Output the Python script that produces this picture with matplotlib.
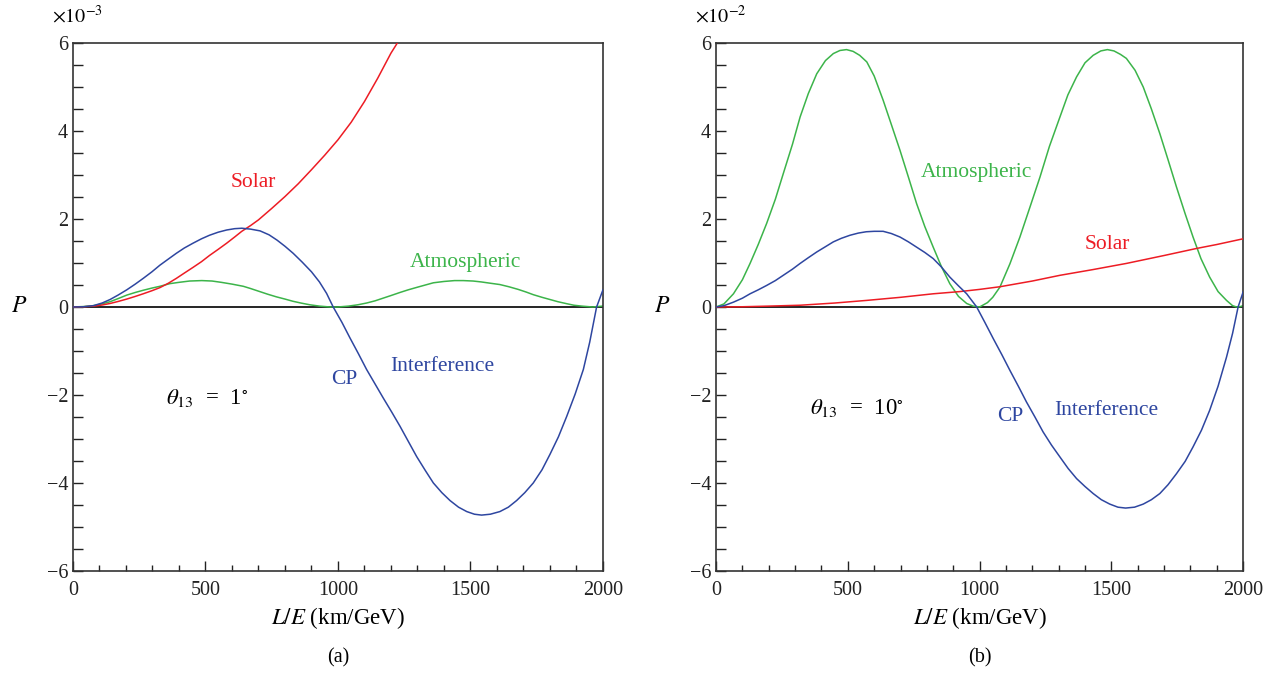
import matplotlib
matplotlib.use("Agg")
import matplotlib.pyplot as plt
from matplotlib.ticker import MultipleLocator

plt.rcParams['font.family'] = ['Liberation Serif', 'DejaVu Serif']
plt.rcParams['mathtext.fontset'] = 'stix'

# panel (a), theta13 = 1 deg, values in units of 1e-3
solar_a_x = [0, 40, 77, 110, 140, 170, 203, 235, 265, 298, 328, 360, 390, 420, 453, 485, 515, 548, 580, 610, 637,
             670, 700, 750, 800, 850, 900, 950, 1000, 1050, 1100, 1150, 1200, 1224, 1240]
solar_a_y = [0, 0.005, 0.02, 0.045, 0.08, 0.125, 0.18, 0.24, 0.3, 0.37, 0.44, 0.54, 0.65, 0.77, 0.9, 1.03, 1.17, 1.31,
             1.45, 1.59, 1.72, 1.85, 1.98, 2.24, 2.51, 2.8, 3.12, 3.45, 3.8, 4.2, 4.67, 5.2, 5.77, 6.0, 6.2]
atm_a_x = [0, 40, 77, 110, 140, 170, 203, 235, 265, 298, 328, 365, 400, 440, 486, 525, 560, 600, 643, 670, 700, 735,
           768, 800, 830, 860, 894, 930, 970, 1000, 1040, 1075, 1108, 1140, 1170, 1200, 1234, 1265, 1300, 1330, 1360,
           1400, 1440, 1473, 1510, 1540, 1575, 1611, 1645, 1680, 1710, 1737, 1770, 1800, 1830, 1863, 1890, 1920, 1960,
           2000]
atm_a_y = [0, 0.01, 0.03, 0.07, 0.12, 0.19, 0.27, 0.33, 0.38, 0.43, 0.47, 0.53, 0.56, 0.59, 0.6, 0.59, 0.56, 0.52,
           0.47, 0.42, 0.36, 0.29, 0.23, 0.18, 0.13, 0.09, 0.05, 0.02, 0, 0, 0.02, 0.05, 0.09, 0.14, 0.2, 0.26, 0.33,
           0.39, 0.45, 0.5, 0.55, 0.58, 0.6, 0.6, 0.59, 0.57, 0.54, 0.51, 0.46, 0.4, 0.34, 0.28, 0.22, 0.17, 0.12,
           0.075, 0.04, 0.02, 0, 0.02]
cp_a_x = [0, 40, 77, 110, 140, 170, 203, 235, 265, 298, 328, 360, 390, 420, 453, 485, 515, 548, 580, 610, 637, 670,
          706, 740, 770, 800, 831, 865, 900, 930, 957, 982, 1015, 1045, 1077, 1108, 1140, 1171, 1203, 1234, 1265, 1297,
          1330, 1360, 1392, 1423, 1455, 1486, 1515, 1542, 1575, 1611, 1643, 1674, 1705, 1737, 1770, 1800, 1832, 1863,
          1895, 1926, 1950, 1976, 2000]
cp_a_y = [0, 0.005, 0.03, 0.09, 0.17, 0.27, 0.39, 0.52, 0.65, 0.8, 0.95, 1.09, 1.22, 1.34, 1.45, 1.55, 1.63, 1.7,
          1.75, 1.78, 1.79, 1.77, 1.73, 1.64, 1.52, 1.38, 1.22, 1.02, 0.8, 0.57, 0.31, 0, -0.35, -0.7, -1.06, -1.42,
          -1.75, -2.07, -2.39, -2.71, -3.05, -3.4, -3.72, -4.0, -4.22, -4.4, -4.55, -4.65, -4.71, -4.73, -4.71, -4.65,
          -4.55, -4.4, -4.22, -4.0, -3.7, -3.35, -2.95, -2.49, -1.98, -1.42, -0.8, 0, 0.39]

# panel (b), theta13 = 10 deg, values in units of 1e-2
solar_b_x = [0, 100, 200, 319, 450, 572, 700, 824, 925, 1000, 1077, 1200, 1305, 1430, 1557, 1700, 1823, 1900, 2000]
solar_b_y = [0, 0.005, 0.02, 0.04, 0.09, 0.15, 0.22, 0.3, 0.35, 0.4, 0.46, 0.59, 0.72, 0.85, 0.99, 1.17, 1.33, 1.42,
             1.55]
atm_b_x = [0, 30, 66, 100, 129, 160, 192, 225, 255, 290, 319, 350, 382, 415, 445, 470, 495, 520, 545, 572, 600, 634,
           665, 698, 730, 761, 792, 824, 855, 887, 920, 951, 975, 1000, 1030, 1050, 1077, 1115, 1153, 1190, 1229, 1265,
           1305, 1335, 1368, 1400, 1431, 1460, 1485, 1510, 1535, 1557, 1590, 1621, 1652, 1684, 1715, 1747, 1780, 1810,
           1840, 1873, 1905, 1937, 1960, 1975, 1990, 2000]
atm_b_y = [0, 0.07, 0.3, 0.62, 0.99, 1.42, 1.9, 2.45, 3.03, 3.7, 4.32, 4.85, 5.3, 5.6, 5.76, 5.83, 5.85, 5.81, 5.72,
           5.57, 5.25, 4.7, 4.15, 3.56, 2.95, 2.35, 1.83, 1.36, 0.92, 0.53, 0.24, 0.08, 0.02, 0, 0.1, 0.22, 0.45, 0.98,
           1.59, 2.25, 2.95, 3.65, 4.32, 4.82, 5.23, 5.55, 5.72, 5.82, 5.85, 5.82, 5.74, 5.65, 5.38, 5.0, 4.5, 3.94,
           3.35, 2.73, 2.12, 1.59, 1.1, 0.68, 0.35, 0.15, 0.03, 0, 0.01, 0.03]
cp_b_x = [0, 30, 66, 100, 129, 160, 192, 225, 255, 290, 319, 350, 382, 415, 445, 475, 508, 540, 570, 600, 634, 665,
          698, 730, 761, 792, 824, 855, 887, 920, 951, 970, 989, 1020, 1052, 1085, 1115, 1147, 1178, 1210, 1241, 1273,
          1305, 1336, 1368, 1400, 1431, 1462, 1494, 1525, 1554, 1588, 1621, 1652, 1684, 1715, 1747, 1780, 1810, 1842,
          1873, 1905, 1937, 1960, 1981, 2000]
cp_b_y = [0, 0.03, 0.11, 0.2, 0.3, 0.39, 0.49, 0.6, 0.72, 0.86, 0.99, 1.12, 1.25, 1.37, 1.48, 1.56, 1.63, 1.68, 1.71,
          1.72, 1.72, 1.67, 1.59, 1.48, 1.36, 1.24, 1.1, 0.91, 0.68, 0.48, 0.3, 0.15, 0, -0.35, -0.72, -1.09, -1.44,
          -1.8, -2.16, -2.5, -2.84, -3.14, -3.41, -3.67, -3.9, -4.08, -4.24, -4.38, -4.48, -4.55, -4.57, -4.55, -4.48,
          -4.38, -4.24, -4.04, -3.79, -3.51, -3.18, -2.8, -2.35, -1.8, -1.14, -0.6, 0, 0.34]

red = '#ed1c24'
green = '#3cb44a'
blue = '#2e46a0'

fig = plt.figure(figsize=(12.78, 6.73), dpi=100)
ax1 = fig.add_axes([0.0571, 0.1516, 0.4147, 0.7845])
ax2 = fig.add_axes([0.5603, 0.1516, 0.4124, 0.7845])

panels = [
    (ax1, solar_a_x, solar_a_y, atm_a_x, atm_a_y, cp_a_x, cp_a_y, r'$\times10^{-3}$', '(a)'),
    (ax2, solar_b_x, solar_b_y, atm_b_x, atm_b_y, cp_b_x, cp_b_y, r'$\times10^{-2}$', '(b)'),
]

for ax, sx, sy, gx, gy, cx, cy, mult, tag in panels:
    ax.axhline(0, color='black', lw=1.2, zorder=1)
    ax.plot(sx, sy, color=red, lw=1.1, zorder=3)
    ax.plot(gx, gy, color=green, lw=1.1, zorder=2)
    ax.plot(cx, cy, color=blue, lw=1.1, zorder=3)
    ax.set_xlim(0, 2000)
    ax.set_ylim(-6, 6)
    ax.xaxis.set_major_locator(MultipleLocator(500))
    ax.xaxis.set_minor_locator(MultipleLocator(100))
    ax.yaxis.set_major_locator(MultipleLocator(2))
    ax.yaxis.set_minor_locator(MultipleLocator(0.5))
    ax.tick_params(which='both', direction='in', top=False, right=False, labelsize=14.5, colors='#222222')
    ax.tick_params(axis='y', which='both', length=7, width=1.0)
    ax.tick_params(axis='x', which='major', length=7, width=1.0)
    ax.tick_params(axis='x', which='minor', length=4, width=1.0)
    ax.tick_params(axis='x', pad=7)
    for s in ax.spines.values():
        s.set_linewidth(1.2)
        s.set_color('#333333')
    ax.set_xlabel(r'$L/E$ (km/GeV)', fontsize=16.5, labelpad=4)
    ax.set_ylabel(r'$P$', fontsize=17, rotation=0, va='center', labelpad=20)
    ax.text(-0.04, 1.05, mult, transform=ax.transAxes, fontsize=14.5, ha='left', va='center')
    ax.text(0.5, -0.165, tag, transform=ax.transAxes, fontsize=14.5, ha='center', va='center')

fs = 15.5
ax1.text(679, 2.82, 'Solar', color=red, fontsize=fs, ha='center', va='center')
ax1.text(1483, 1.0, 'Atmospheric', color=green, fontsize=fs, ha='center', va='center')
ax1.text(1023, -1.64, 'CP', color=blue, fontsize=fs, ha='center', va='center')
ax1.text(1392, -1.36, 'Interference', color=blue, fontsize=fs, ha='center', va='center')
ax1.text(505, -2.07, r'$\theta_{13}$  =  1$^{\circ}$', fontsize=16.5, ha='center', va='center')

ax2.text(990, 3.05, 'Atmospheric', color=green, fontsize=fs, ha='center', va='center')
ax2.text(1483, 1.41, 'Solar', color=red, fontsize=fs, ha='center', va='center')
ax2.text(1115, -2.48, 'CP', color=blue, fontsize=fs, ha='center', va='center')
ax2.text(1479, -2.36, 'Interference', color=blue, fontsize=fs, ha='center', va='center')
ax2.text(535, -2.3, r'$\theta_{13}$  =  10$^{\circ}$', fontsize=16.5, ha='center', va='center')

fig.savefig('out.png', dpi=100)
